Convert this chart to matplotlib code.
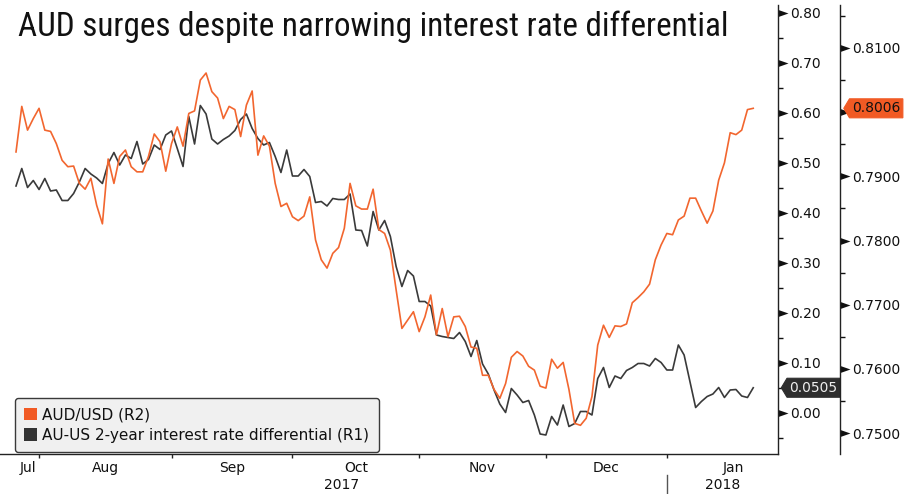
import numpy as np
import pandas as pd
import matplotlib
matplotlib.use("Agg")
import matplotlib.pyplot as plt
import matplotlib.transforms as mtransforms
from matplotlib.path import Path
from matplotlib.markers import MarkerStyle
from matplotlib.patches import Patch
from matplotlib.ticker import FixedLocator, MultipleLocator, FormatStrFormatter, FuncFormatter, NullFormatter

# --- data: one value per business day, 26 Jul 2017 .. 22 Jan 2018 ---
start_date = "2017-07-26"

audusd = [
    0.7938, 0.8009, 0.7972, 0.7990, 0.8006, 0.7972, 0.7970, 0.7951, 0.7925, 0.7915,
    0.7916, 0.7889, 0.7880, 0.7897, 0.7855, 0.7826, 0.7927, 0.7889, 0.7931, 0.7941,
    0.7915, 0.7907, 0.7907, 0.7931, 0.7966, 0.7954, 0.7908, 0.7951, 0.7977, 0.7947,
    0.7998, 0.8002, 0.8050, 0.8061, 0.8032, 0.8022, 0.7990, 0.8009, 0.8004, 0.7962,
    0.8011, 0.8033, 0.7933, 0.7963, 0.7947, 0.7889, 0.7853, 0.7858, 0.7837, 0.7831,
    0.7838, 0.7868, 0.7801, 0.7770, 0.7757, 0.7780, 0.7789, 0.7819, 0.7889, 0.7854,
    0.7849, 0.7849, 0.7880, 0.7817, 0.7811, 0.7785, 0.7723, 0.7663, 0.7676, 0.7689,
    0.7658, 0.7681, 0.7715, 0.7653, 0.7694, 0.7650, 0.7681, 0.7682, 0.7666, 0.7634,
    0.7632, 0.7590, 0.7590, 0.7568, 0.7554, 0.7577, 0.7618, 0.7627, 0.7620, 0.7604,
    0.7598, 0.7573, 0.7570, 0.7615, 0.7601, 0.7610, 0.7568, 0.7515, 0.7512, 0.7523,
    0.7557, 0.7637, 0.7668, 0.7649, 0.7667, 0.7666, 0.7670, 0.7703, 0.7711, 0.7720,
    0.7732, 0.7770, 0.7793, 0.7811, 0.7809, 0.7832, 0.7838, 0.7866, 0.7866, 0.7846,
    0.7827, 0.7846, 0.7894, 0.7921, 0.7968, 0.7965, 0.7972, 0.8004, 0.8006,
]

rate_diff = [
    0.454, 0.489, 0.451, 0.465, 0.447, 0.469, 0.444, 0.446, 0.425, 0.425,
    0.439, 0.462, 0.489, 0.478, 0.470, 0.459, 0.499, 0.521, 0.496, 0.516,
    0.509, 0.543, 0.498, 0.507, 0.536, 0.527, 0.556, 0.564, 0.529, 0.493,
    0.593, 0.538, 0.615, 0.598, 0.548, 0.538, 0.547, 0.554, 0.565, 0.587,
    0.598, 0.569, 0.549, 0.536, 0.541, 0.513, 0.481, 0.526, 0.474, 0.474,
    0.487, 0.473, 0.421, 0.423, 0.414, 0.429, 0.427, 0.427, 0.438, 0.366,
    0.365, 0.334, 0.403, 0.366, 0.385, 0.353, 0.293, 0.253, 0.285, 0.274,
    0.223, 0.223, 0.214, 0.156, 0.153, 0.151, 0.149, 0.161, 0.143, 0.113,
    0.145, 0.098, 0.078, 0.046, 0.018, 0.001, 0.049, 0.036, 0.021, 0.025,
    -0.004, -0.042, -0.044, -0.007, -0.024, 0.016, -0.027, -0.021, 0.003, 0.003,
    -0.004, 0.069, 0.091, 0.051, 0.074, 0.069, 0.085, 0.091, 0.099, 0.099,
    0.094, 0.109, 0.101, 0.086, 0.086, 0.136, 0.116, 0.063, 0.011, 0.023,
    0.033, 0.038, 0.051, 0.031, 0.046, 0.047, 0.034, 0.031, 0.0505,
]

month_labels = ["Jul", "Aug", "Sep", "Oct", "Nov", "Dec", "Jan"]
year_labels = ["2017", "2018"]
r1_ticks = [0.0, 0.1, 0.2, 0.3, 0.4, 0.5, 0.6, 0.7, 0.8]
r2_ticks = [0.75, 0.76, 0.77, 0.78, 0.79, 0.80, 0.81]

title = "AUD surges despite narrowing interest rate differential"
aud_label = "AUD/USD (R2)"
diff_label = "AU-US 2-year interest rate differential (R1)"

ORANGE = "#f2662f"
ORANGE_TAG = "#f15a24"
DARK = "#3a3a3a"
INK = "#111111"

dates = pd.bdate_range(start_date, periods=len(audusd))
x = np.arange(len(dates))
day0 = dates[0].to_datetime64().astype("datetime64[D]")
month_starts = pd.date_range("2017-08-01", "2018-02-01", freq="BMS")
bounds = np.busday_count(day0, month_starts.values.astype("datetime64[D]"))

x_left, x_right = -2.78, 132.3

fig = plt.figure(figsize=(9.17, 4.94), dpi=100)
ax = fig.add_axes([0, 40 / 494, 778 / 917, 449 / 494])
ax2 = ax.twinx()

ax.plot(x, rate_diff, color=DARK, lw=1.2)
ax2.plot(x, audusd, color=ORANGE, lw=1.2)

ax.set_xlim(x_left, x_right)
ax.set_ylim(-0.082, 0.816)
ax2.set_ylim(0.74673, 0.8167)

# spines
ax.yaxis.tick_right()
ax.spines[["left", "top"]].set_visible(False)
ax2.spines[["left", "top", "bottom"]].set_visible(False)
ax2.spines["right"].set_position(("axes", 840 / 778))
for s in [ax.spines["right"], ax.spines["bottom"], ax2.spines["right"]]:
    s.set_color("#222222")
    s.set_linewidth(1)

# y ticks (R2 label under the last-value tag is hidden, as in the source)
ax.yaxis.set_major_locator(FixedLocator(r1_ticks))
ax.yaxis.set_major_formatter(FormatStrFormatter("%.2f"))
ax.yaxis.set_minor_locator(MultipleLocator(0.05))
ax2.yaxis.set_major_locator(FixedLocator(r2_ticks))
ax2.yaxis.set_major_formatter(
    FuncFormatter(lambda v, p: "" if abs(v - audusd[-1]) < 0.003 else f"{v:.4f}"))
ax2.yaxis.set_minor_locator(MultipleLocator(0.005))
for a in (ax, ax2):
    a.tick_params(axis="y", which="major", direction="out", length=7.2, width=1,
                  pad=1.5, labelsize=10, colors=INK)
    a.tick_params(axis="y", which="minor", direction="out", length=3.6, width=1, color=INK)

tri = MarkerStyle(Path([(0, -0.35), (0, 0.35), (1, 0), (0, -0.35)],
                       [Path.MOVETO, Path.LINETO, Path.LINETO, Path.CLOSEPOLY]))
for a in (ax, ax2):
    for t in a.yaxis.get_major_ticks():
        t.tick2line.set_marker(tri)
        t.tick2line.set_markersize(14.4)
        t.tick2line.set_markerfacecolor(INK)
        t.tick2line.set_markeredgewidth(0)

# x ticks: month boundaries, labels centred in each month
label_pos = [(0 + bounds[0]) / 2] + [(bounds[i] + bounds[i + 1]) / 2 for i in range(6)]
ax.xaxis.set_major_locator(FixedLocator(bounds[:-1]))
ax.xaxis.set_major_formatter(NullFormatter())
ax.xaxis.set_minor_locator(FixedLocator(label_pos))
ax.set_xticklabels(month_labels, minor=True)
ax.tick_params(axis="x", which="major", direction="out", length=3, width=1, color="#222222")
ax.tick_params(axis="x", which="minor", length=0, pad=5, labelsize=10, labelcolor=INK)

# year labels and separator
year_bound = bounds[5]
trans = mtransforms.blended_transform_factory(ax.transData, ax.transAxes)
ax.text((x[0] + year_bound) / 2, -0.069, year_labels[0], transform=trans,
        ha="center", va="center", fontsize=10, color=INK)
ax.text((year_bound + x_right) / 2, -0.069, year_labels[1], transform=trans,
        ha="center", va="center", fontsize=10, color=INK)
ax.plot([year_bound, year_bound], [-0.047, -0.095], transform=trans,
        color="#555555", lw=1, clip_on=False)


# last-value tags
def tag_box(x0, y0, width, height, mutation_size):
    pad = 0.18 * mutation_size
    x0, y0 = x0 - pad, y0 - pad
    width, height = width + 2 * pad, height + 2 * pad
    tip = 0.3 * height
    return Path([(x0, y0), (x0 + width, y0), (x0 + width, y0 + height),
                 (x0, y0 + height), (x0 - tip, y0 + height / 2), (x0, y0)], closed=True)


t2 = mtransforms.blended_transform_factory(ax2.transAxes, ax2.transData)
ax2.text(1.0951, audusd[-1], f"{audusd[-1]:.4f}", transform=t2, ha="left", va="center",
         fontsize=10, color=INK,
         bbox=dict(boxstyle=tag_box, fc=ORANGE_TAG, ec=ORANGE_TAG, lw=0.8))
t1 = mtransforms.blended_transform_factory(ax.transAxes, ax.transData)
ax.text(1.0148, rate_diff[-1], f"{rate_diff[-1]:.4f}", transform=t1, ha="left", va="center",
        fontsize=10, color="#eeeeee",
        bbox=dict(boxstyle=tag_box, fc="#2e2e2e", ec="#2e2e2e", lw=0.8))

# legend
handles = [Patch(facecolor=ORANGE_TAG, label=aud_label),
           Patch(facecolor="#333333", label=diff_label)]
leg = ax2.legend(handles=handles, loc="lower left", bbox_to_anchor=(15 / 917, 42 / 494),
                 bbox_transform=fig.transFigure, fontsize=11, handlelength=0.85,
                 handleheight=0.85, handletextpad=0.35, borderpad=0.6, labelspacing=0.35,
                 borderaxespad=0, fancybox=True, framealpha=1)
leg.get_frame().set_facecolor("#f0f0f0")
leg.get_frame().set_edgecolor("#3a3a3a")
leg.get_frame().set_linewidth(1)
for txt in leg.get_texts():
    txt.set_color(INK)

# title: narrow face if available, sized to span the same width as the source
title_text = fig.text(18 / 917, 1 - 27 / 494, title, fontsize=26, ha="left", va="center",
                      color=INK, fontstretch="condensed",
                      family=["Liberation Sans Narrow", "Roboto Condensed", "Lato", "DejaVu Sans"])
fig.canvas.draw()
w = title_text.get_window_extent().width
title_text.set_fontsize(26 * 710 / w)

fig.savefig("out.png", dpi=100)
